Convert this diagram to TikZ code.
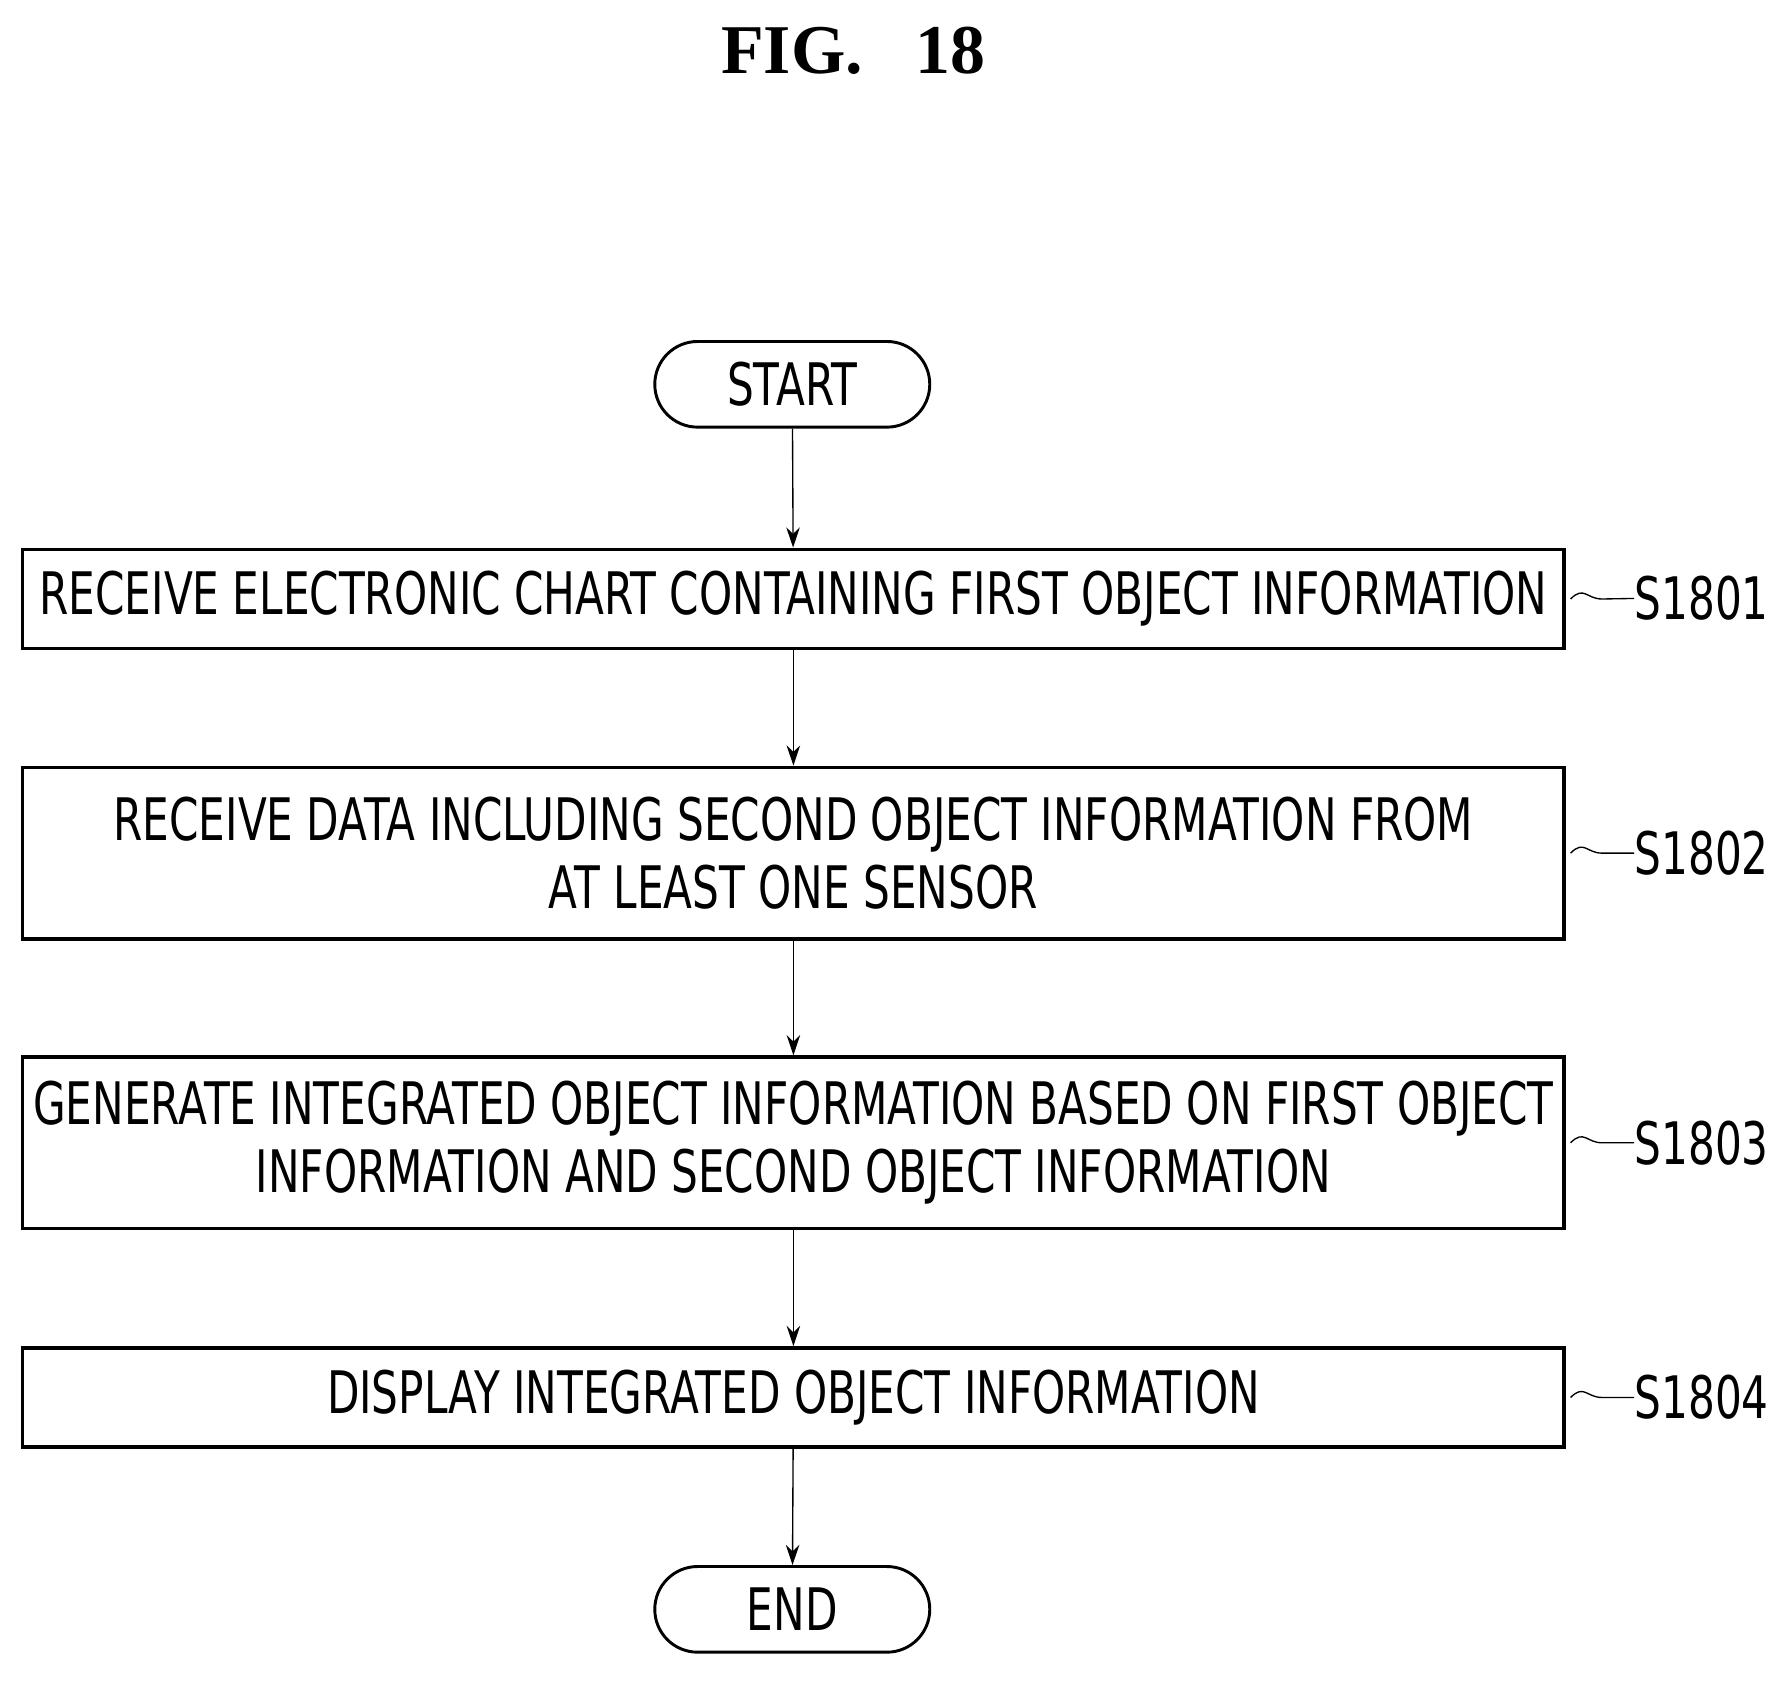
\documentclass[tikz,border=0pt]{standalone}
\usepackage{fontspec}
\setmainfont{DejaVu Sans}[FakeStretch=0.72]
\newfontfamily\titlefont{Liberation Serif}
\usetikzlibrary{arrows.meta}
\begin{document}
\begin{tikzpicture}[x=0.5pt,y=-0.5pt,
  box/.style={draw,line width=1.6pt,minimum width=684pt,align=center,font=\fontsize{26}{30}\selectfont,inner sep=0},
  term/.style={draw,line width=1.3pt,rounded corners=19pt,minimum width=122pt,minimum height=38pt,font=\fontsize{26}{30}\selectfont,inner sep=0},
  lab/.style={font=\fontsize{26}{30}\selectfont,anchor=west,inner sep=0},
  arr/.style={-{Stealth[length=9pt,width=6pt]},line width=0.6pt},
  tl/.style={line width=0.6pt}]
\useasboundingbox (0,0) rectangle (1575,1495);
\node[font=\titlefont\bfseries\fontsize{31}{34}\selectfont] (title) at (757,45) {FIG.\ \ \ 18};
\node[term] (start) at (703,341) {START};
\node[box,minimum height=44pt] (b1) at (704,531.5) {\raisebox{-3pt}{RECEIVE ELECTRONIC CHART CONTAINING FIRST OBJECT INFORMATION}};
\node[box,minimum height=76pt] (b2) at (704,757) {RECEIVE DATA INCLUDING SECOND OBJECT INFORMATION FROM\\AT LEAST ONE SENSOR};
\node[box,minimum height=76pt] (b3) at (704,1014) {GENERATE INTEGRATED OBJECT INFORMATION BASED ON FIRST OBJECT\\INFORMATION AND SECOND OBJECT INFORMATION};
\node[box,minimum height=44pt] (b4) at (704,1240) {\raisebox{-3pt}{DISPLAY INTEGRATED OBJECT INFORMATION}};
\node[term] (end) at (703,1428) {END};
\draw[arr] (start) -- (b1);
\draw[arr] (b1) -- (b2);
\draw[arr] (b2) -- (b3);
\draw[arr] (b3) -- (b4);
\draw[arr] (b4) -- (end);
\foreach \n/\y/\t in {l1/531/S1801,l2/757/S1802,l3/1014/S1803,l4/1240/S1804}{
  \node[lab] (\n) at (1450,\y) {\t};
}
\foreach \b/\n in {b1/l1,b2/l2,b3/l3,b4/l4}{
  \draw[tl] (\b.east) ++(4,0) .. controls +(12,-12) and +(-14,0) .. ++(28,0) -- ([yshift=0]\n.west);
}
\end{tikzpicture}
\end{document}
